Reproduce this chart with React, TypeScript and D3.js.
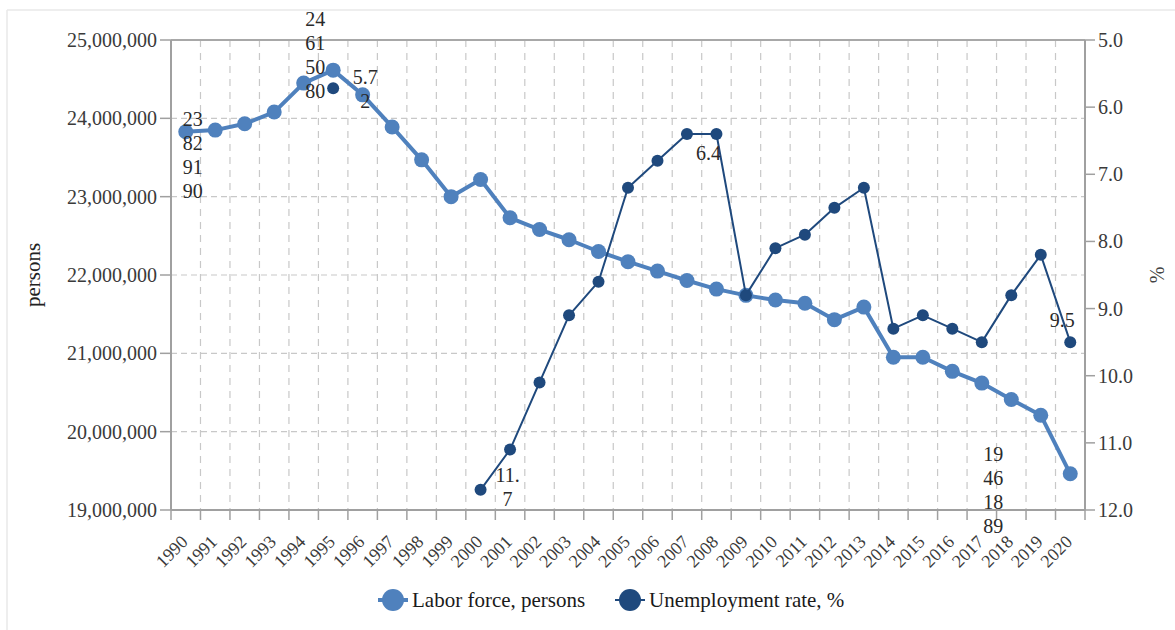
import React from "react";
import * as d3 from "d3";

const years = [
  "1990", "1991", "1992", "1993", "1994", "1995", "1996", "1997", "1998", "1999",
  "2000", "2001", "2002", "2003", "2004", "2005", "2006", "2007", "2008", "2009",
  "2010", "2011", "2012", "2013", "2014", "2015", "2016", "2017", "2018", "2019", "2020",
];

const laborForce: number[] = [
  23829190, 23850000, 23930000, 24080000, 24450000, 24615080, 24300000, 23890000, 23470000, 23000000,
  23220000, 22730000, 22580000, 22450000, 22300000, 22170000, 22050000, 21930000, 21820000, 21740000,
  21680000, 21640000, 21430000, 21590000, 20950000, 20950000, 20770000, 20620000, 20410000, 20210000, 19461889,
];

const unemployment: (number | null)[] = [
  null, null, null, null, null, 5.72, null, null, null, null,
  11.7, 11.1, 10.1, 9.1, 8.6, 7.2, 6.8, 6.4, 6.4, 8.8,
  8.1, 7.9, 7.5, 7.2, 9.3, 9.1, 9.3, 9.5, 8.8, 8.2, 9.5,
];

const leftTicks = [19000000, 20000000, 21000000, 22000000, 23000000, 24000000, 25000000];
const rightTicks = [5, 6, 7, 8, 9, 10, 11, 12];

const seriesNames = ["Labor force, persons", "Unemployment rate, %"];

// label layout (which points carry a value label, and where it sits)
const labelLayout = [
  { series: 0, year: "1990", dx: 7, dy: -13 },
  { series: 0, year: "1995", dx: -18, dy: -51 },
  { series: 1, year: "1995", dx: 32, dy: -11 },
  { series: 1, year: "2000", dx: 27, dy: -15 },
  { series: 1, year: "2008", dx: -8, dy: 19 },
  { series: 1, year: "2020", dx: -8, dy: -22 },
  { series: 0, year: "2020", dx: -77, dy: -20 },
];

const LIGHT = "#4f81bd";
const DARK = "#1f497d";
const FONT = '"Liberation Serif", "DejaVu Serif", "Times New Roman", serif';

const W = 1175;
const H = 630;
const left = 171;
const right = 1085;
const top = 40;
const bottom = 510;

function chunk(s: string, n: number): string[] {
  const out: string[] = [];
  for (let i = 0; i < s.length; i += n) out.push(s.slice(i, i + n));
  return out;
}

export default function App() {
  const x = d3.scaleBand<string>().domain(years).range([left, right]).padding(0);
  const bw = x.bandwidth();
  const cx = (y: string) => (x(y) as number) + bw / 2;
  const yL = d3.scaleLinear().domain([19000000, 25000000]).range([bottom, top]);
  const yR = d3.scaleLinear().domain([5, 12]).range([top, bottom]);

  const laborPts = years.map((yr, i) => ({ yr, v: laborForce[i] }));
  const unempPts = years.map((yr, i) => ({ yr, v: unemployment[i] }));

  const laborLine = d3
    .line<{ yr: string; v: number }>()
    .x((d) => cx(d.yr))
    .y((d) => yL(d.v));
  const unempLine = d3
    .line<{ yr: string; v: number | null }>()
    .defined((d) => d.v !== null)
    .x((d) => cx(d.yr))
    .y((d) => yR(d.v as number));

  const boundaries = d3.range(0, years.length + 1).map((i) => left + i * x.step());
  const fmtL = d3.format(",");
  const fmtR = d3.format(".1f");
  const ts = { fontFamily: FONT };

  return (
    <svg
      width={W}
      height={H}
      style={{ position: "absolute", left: 0, top: 0, background: "#fff", fontFamily: FONT }}
    >
      <rect x={0} y={0} width={W} height={H} fill="#fff" />
      <line x1={7} y1={10} x2={W} y2={10} stroke="#e8e8e8" strokeWidth={1.5} />
      <line x1={7} y1={10} x2={7} y2={H} stroke="#e8e8e8" strokeWidth={1.5} />

      {/* vertical dashed gridlines */}
      {boundaries.slice(1, -1).map((bx, i) => (
        <line key={"vg" + i} x1={bx} x2={bx} y1={top} y2={bottom} stroke="#c8c8c8" strokeWidth={1.2} strokeDasharray="7,6" />
      ))}
      {/* horizontal dashed gridlines */}
      {leftTicks.slice(1, -1).map((t) => (
        <line key={"hg" + t} x1={left} x2={right} y1={yL(t)} y2={yL(t)} stroke="#c8c8c8" strokeWidth={1.2} strokeDasharray="6,4" />
      ))}

      {/* frame / axes */}
      <line x1={left} x2={right} y1={top} y2={top} stroke="#a8a8a8" strokeWidth={2} />
      <line x1={left} x2={right} y1={bottom} y2={bottom} stroke="#a0a0a0" strokeWidth={2} />
      <line x1={left} x2={left} y1={top} y2={bottom} stroke="#a0a0a0" strokeWidth={2} />
      <line x1={right} x2={right} y1={top} y2={bottom} stroke="#a0a0a0" strokeWidth={2} />

      {/* left ticks */}
      {leftTicks.map((t) => (
        <g key={"lt" + t}>
          <line x1={160} x2={left} y1={yL(t)} y2={yL(t)} stroke="#a0a0a0" strokeWidth={1.5} />
          <text style={ts} x={157} y={yL(t)} textAnchor="end" dominantBaseline="central" fontSize={20} fill="#3a3a3a">
            {fmtL(t)}
          </text>
        </g>
      ))}
      {/* right ticks */}
      {rightTicks.map((t) => (
        <g key={"rt" + t}>
          <line x1={right} x2={right + 10} y1={yR(t)} y2={yR(t)} stroke="#a0a0a0" strokeWidth={1.5} />
          <text style={ts} x={right + 13} y={yR(t)} textAnchor="start" dominantBaseline="central" fontSize={20} fill="#3a3a3a">
            {fmtR(t)}
          </text>
        </g>
      ))}
      {/* x ticks */}
      {boundaries.map((bx, i) => (
        <line key={"xt" + i} x1={bx} x2={bx} y1={bottom} y2={bottom + 10} stroke="#a0a0a0" strokeWidth={1.5} />
      ))}
      {years.map((yr) => (
        <text
          key={"xl" + yr}
          style={ts}
          transform={`translate(${cx(yr) + 3},${bottom + 33}) rotate(-45)`}
          textAnchor="end"
          fontSize={18}
          fill="#3a3a3a"
        >
          {yr}
        </text>
      ))}

      {/* axis titles */}
      <text style={ts} transform={`translate(33,${(top + bottom) / 2}) rotate(-90)`} textAnchor="middle" dominantBaseline="central" fontSize={21} fill="#222">
        persons
      </text>
      <text style={ts} transform={`translate(1157,${(top + bottom) / 2}) rotate(-90)`} textAnchor="middle" dominantBaseline="central" fontSize={20} fill="#444">
        %
      </text>

      {/* labor force series */}
      <path d={laborLine(laborPts) || ""} fill="none" stroke={LIGHT} strokeWidth={4} strokeLinejoin="round" />
      {laborPts.map((d) => (
        <circle key={"lp" + d.yr} cx={cx(d.yr)} cy={yL(d.v)} r={7.5} fill={LIGHT} />
      ))}

      {/* unemployment series */}
      <path d={unempLine(unempPts) || ""} fill="none" stroke={DARK} strokeWidth={2} strokeLinejoin="round" />
      {unempPts
        .filter((d) => d.v !== null)
        .map((d) => (
          <circle key={"up" + d.yr} cx={cx(d.yr)} cy={yR(d.v as number)} r={6} fill={DARK} />
        ))}

      {/* value labels */}
      {labelLayout.map((l, k) => {
        const i = years.indexOf(l.year);
        const px = cx(l.year);
        const val = l.series === 0 ? laborForce[i] : (unemployment[i] as number);
        const py = l.series === 0 ? yL(val) : yR(val);
        const lines = l.series === 0 ? chunk(String(val), 2) : chunk(String(val), 3);
        return (
          <g key={"lab" + k}>
            {lines.map((s, j) => (
              <text
                key={j}
                style={ts}
                x={px + l.dx}
                y={py + l.dy + j * 24}
                textAnchor="middle"
                dominantBaseline="central"
                fontSize={20}
                fill="#2a2a2a"
              >
                {s}
              </text>
            ))}
          </g>
        );
      })}

      {/* legend */}
      {[LIGHT, DARK].map((c, i) => {
        const lx = i === 0 ? 393 : 630;
        const ly = 600;
        return (
          <g key={"lg" + i}>
            <line x1={lx - 15} x2={lx + 15} y1={ly} y2={ly} stroke={c} strokeWidth={i === 0 ? 4 : 2} />
            <circle cx={lx} cy={ly} r={11} fill={c} />
            <text style={ts} x={lx + 19} y={ly} dominantBaseline="central" fontSize={21} fill="#1a1a1a">
              {seriesNames[i]}
            </text>
          </g>
        );
      })}
    </svg>
  );
}
